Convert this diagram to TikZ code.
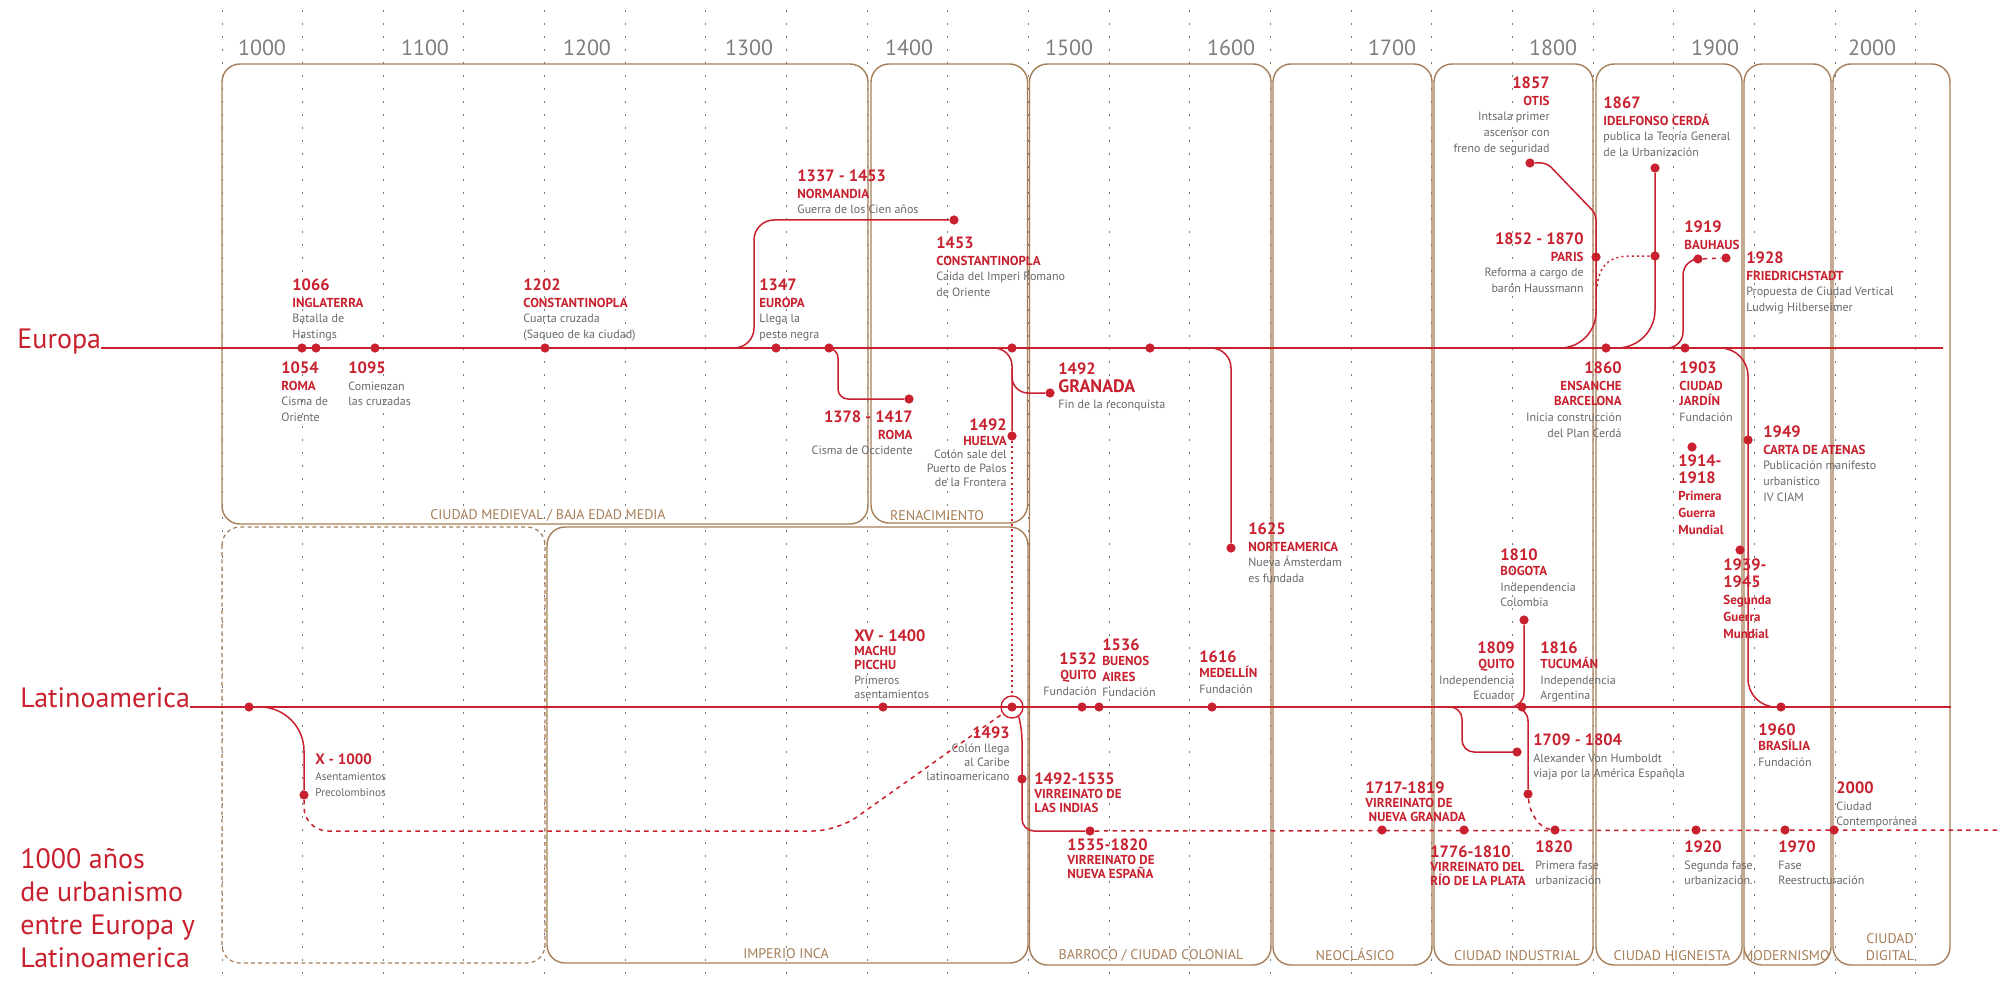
\documentclass[tikz,border=0pt]{standalone}
\usepackage{fontspec}
\setmainfont{PT Sans}
\definecolor{myred}{RGB}{200,32,46}
\definecolor{boxbrown}{RGB}{166,126,88}
\definecolor{txtgray}{RGB}{105,105,108}
\definecolor{gridgray}{RGB}{120,120,120}
\definecolor{yeargray}{RGB}{125,125,125}
\newcommand\Y[1]{{\color{myred}\fontsize{8.2}{8.2}\selectfont\bfseries #1}}
\newcommand\N[1]{{\color{myred}\fontsize{6.5}{6.5}\selectfont\bfseries #1}}
\begin{document}
\begin{tikzpicture}[x=0.5pt,y=-0.5pt,
  gridln/.style={gridgray, line width=0.5pt, dash pattern=on 0.9pt off 5.6pt},
  pbox/.style={boxbrown, line width=0.7pt, rounded corners=9pt},
  pboxd/.style={pbox, dash pattern=on 2pt off 1.6pt, line width=0.6pt},
  boxlbl/.style={text=boxbrown, font=\fontsize{7}{8}\selectfont, inner sep=0pt, anchor=base, align=center},
  yearlbl/.style={text=yeargray, font=\fontsize{11}{11}\selectfont, inner sep=0pt},
  rl/.style={myred, line width=0.75pt},
  rdash/.style={dash pattern=on 2.2pt off 2.2pt},
  rdot/.style={dash pattern=on 1pt off 1.6pt},
  dot/.style={circle, fill=myred, inner sep=0pt, minimum size=4.6pt},
  evt/.style={inner sep=0pt, font=\fontsize{6}{7.8}\selectfont, text=txtgray, align=left, anchor=north west},
  evr/.style={evt, align=right, anchor=north east},
  bigtxt/.style={text=myred, font=\fontsize{14}{16.5}\selectfont, inner sep=0pt}
]
\useasboundingbox (0,0) rectangle (2000,984);
\fill[white] (0,0) rectangle (2000,984);

% grid
\foreach \k in {0,...,21} \draw[gridln] ({222+80.65*\k},10) -- ({222+80.65*\k},984);

% century labels
\foreach \yx/\yt in {262/1000,425/1100,587/1200,749/1300,909/1400,1069/1500,1231/1600,1392/1700,1553/1800,1715/1900,1872/2000}
  \node[yearlbl] (yr\yt) at (\yx,48) {\yt};

% period boxes
\draw[pbox] (222,64) rectangle (868,524);
\draw[pbox] (871,64) rectangle (1027.5,523);
\draw[pbox] (1029.5,64) rectangle (1271,965);
\draw[pbox] (1273,64) rectangle (1432,965);
\draw[pbox] (1434,64) rectangle (1593,965);
\draw[pbox] (1596,64) rectangle (1742,965);
\draw[pbox] (1744,64) rectangle (1831,965);
\draw[pbox] (1833,64) rectangle (1950,965);
\draw[pboxd] (222,527) rectangle (545,963);
\draw[pbox] (547,527) rectangle (1028,963);

\node[boxlbl] (bMed) at (548,519) {CIUDAD MEDIEVAL / BAJA EDAD MEDIA};
\node[boxlbl] (bRen) at (937,520) {RENACIMIENTO};
\node[boxlbl] (bInc) at (786,958) {IMPERIO INCA};
\node[boxlbl] (bBar) at (1151,959) {BARROCO / CIUDAD COLONIAL};
\node[boxlbl] (bNeo) at (1355,960) {NEOCLÁSICO};
\node[boxlbl] (bInd) at (1517,960) {CIUDAD INDUSTRIAL};
\node[boxlbl] (bHig) at (1672,960) {CIUDAD HIGNEISTA};
\node[boxlbl] (bMod) at (1786,960) {MODERNISMO};
\node[boxlbl] (bDig1) at (1890,943) {CIUDAD};
\node[boxlbl] (bDig2) at (1890,960) {DIGITAL};

% axis labels
\node[bigtxt, anchor=base west] (lEur) at (17,348) {Europa};
\node[bigtxt, anchor=base west] (lLat) at (20,707) {Latinoamerica};
\node[bigtxt, anchor=north west, align=left] (title) at (20,848) {1000 años\\de urbanismo\\entre Europa y\\Latinoamerica};

\coordinate (eEnd) at (1943,348);
\coordinate (lEnd) at (1951,707);
\draw[rl] (lEur.base east) -- (eEnd);
\draw[rl] (lLat.base east) -- (lEnd);

% ---------- Europa dots
\node[dot] (d1054) at (302,348) {};
\node[dot] (d1066) at (316,348) {};
\node[dot] (d1095) at (375,348) {};
\node[dot] (d1202) at (545,348) {};
\node[dot] (d1347) at (776,348) {};
\node[dot] (d1378) at (829,348) {};
\node[dot] (d1492) at (1012,348) {};
\node[dot] (d1150) at (1150,348) {};
\node[dot] (d1860) at (1606,348) {};
\node[dot] (d1903) at (1685,348) {};
\node[dot] (d1337e) at (954,220) {};
\node[dot] (d1378e) at (909,399) {};
\node[dot] (dGran) at (1050,393) {};
\node[dot] (dHuel) at (1012,436) {};
\node[dot] (d1625) at (1231,548) {};
\node[dot] (dOtis) at (1530,163) {};
\node[dot] (dParis) at (1596,257) {};
\node[dot] (d1867t) at (1655,168) {};
\node[dot] (d1867m) at (1655,256) {};
\node[dot] (d1919) at (1698,259) {};
\node[dot] (d1928) at (1726,258) {};
\node[dot] (d1949) at (1748,440) {};
\node[dot] (d1914) at (1692,447) {};
\node[dot] (d1939) at (1740,550) {};

% Europa connectors
\coordinate (s1337) at (718,348);
\draw[rl, rounded corners=10pt] (s1337) -| (754,220) -- (d1337e);
\draw[rl, rounded corners=5pt] (d1378) -| (838,399) -- (d1378e);
\coordinate (s1492) at (975,348);
\draw[rl, rounded corners=9pt] (s1492) -| (dHuel);
\coordinate (s1492g) at (1012,368);
\draw[rl, rounded corners=8pt] (s1492g) |- (dGran);
\coordinate (s1625) at (1195,348);
\draw[rl, rounded corners=10pt] (s1625) -| (d1625);
\coordinate (eOtis) at (1540,348);
\draw[rl, rounded corners=3pt] (dOtis) -- (1547,163) -- (1596,214) [rounded corners=18pt] -- (1596,348) -- (eOtis);
\coordinate (sParis) at (1597,286);
\draw[rl, rdot] (sParis) .. controls (1600,262) and (1612,256) .. (1632,256) -- (d1867m);
\coordinate (e1867) at (1600,348);
\draw[rl, rounded corners=19pt] (d1867t) |- (e1867);
\coordinate (s1919) at (1655,348);
\draw[rl, rounded corners=8pt] (s1919) -| (1683,259) -- (d1919);
\draw[rl, rdash] (d1919) -- (d1928);
\coordinate (s1949) at (1700,348);

% ---------- Latin dots
\node[dot] (dL249) at (249,707) {};
\node[dot] (dX) at (304,795) {};
\node[dot] (dXV) at (883,707) {};
\node[circle, draw=myred, line width=0.7pt, minimum size=11pt, inner sep=0pt] (circ) at (1012,707) {};
\node[dot] (d1493) at (1012,707) {};
\node[dot] (d1532) at (1082,707) {};
\node[dot] (d1536) at (1099,707) {};
\node[dot] (d1616) at (1212,707) {};
\node[dot] (d1492v) at (1022,779) {};
\node[dot] (d1535) at (1090,831) {};
\node[dot] (dBog) at (1524,620) {};
\node[dot] (d1816) at (1522,707) {};
\node[dot] (dHum) at (1517,752) {};
\node[dot] (d1804) at (1528,794) {};
\node[dot] (d1820) at (1555,830) {};
\node[dot] (d1717) at (1382,830) {};
\node[dot] (d1776) at (1464,830) {};
\node[dot] (d1920) at (1696,830) {};
\node[dot] (d1970) at (1785,830) {};
\node[dot] (d2000) at (1834,830) {};
\node[dot] (d1960) at (1781,707) {};

% Latin connectors
\draw[rl, rounded corners=14pt] (s1949) -| (1748,707) -- (d1960);
\draw[rl, rounded corners=22pt] (dL249) -| (dX);
\draw[rl, rdash, rounded corners=12pt] (dX) |- (837,831) -- (circ);
\draw[rl, rdot] (dHuel) -- (circ);
\draw[rl, rounded corners=6pt] (circ.-55) -- (1022,728) -- (1022,831) -- (d1535);
\coordinate (lowEnd) at (1998,830);
\draw[rl, rdash] (d1535) -- (lowEnd);
\coordinate (jBog) at (1496,707);
\draw[rl, rounded corners=7pt] (dBog) -- (1524,707) -- (jBog);
\draw[rl, rounded corners=7pt] (jBog) -- (1528,707) -- (d1804);
\draw[rl, rdash] (d1804) .. controls (1530,815) and (1540,828) .. (d1820);
\coordinate (sHum) at (1443,707);
\draw[rl, rounded corners=6pt] (sHum) -| (1462,752) -- (dHum);

% ---------- Europa labels
\node[evt] (t1066) at (292,278) {\Y{1066}\\[0.8pt]\N{INGLATERRA}\\Batalla de\\Hastings};
\node[evt] (t1202) at (523,278) {\Y{1202}\\[0.8pt]\N{CONSTANTINOPLA}\\Cuarta cruzada\\(Saqueo de ka ciudad)};
\node[evt] (t1347) at (759,278) {\Y{1347}\\[0.8pt]\N{EUROPA}\\Llega la\\peste negra};
\node[evt] (t1337) at (797,169) {\Y{1337 - 1453}\\[0.8pt]\N{NORMANDIA}\\Guerra de los Cien años};
\node[evt] (t1453) at (936,236) {\Y{1453}\\[0.8pt]\N{CONSTANTINOPLA}\\Caida del Imperi Romano\\de Oriente};
\node[evr] (t1857) at (1550,76) {\Y{1857}\\[0.8pt]\N{OTIS}\\Intsala primer\\ascensor con\\freno de seguridad};
\node[evt] (t1867) at (1603,96) {\Y{1867}\\[0.8pt]\N{IDELFONSO CERDÁ}\\publica la Teoría General\\de la Urbanización};
\node[evr] (t1852) at (1584,232) {\Y{1852 - 1870}\\[0.8pt]\N{PARIS}\\Reforma a cargo de\\barón Haussmann};
\node[evt] (t1919) at (1684,220) {\Y{1919}\\[0.8pt]\N{BAUHAUS}};
\node[evt] (t1928) at (1746,251) {\Y{1928}\\[0.8pt]\N{FRIEDRICHSTADT}\\Propuesta de Ciudad Vertical\\Ludwig Hilberseimer};
\node[evt] (t1054) at (281,361) {\Y{1054}\\[0.8pt]\N{ROMA}\\Cisma de\\Oriente};
\node[evt] (t1095) at (348,361) {\Y{1095}\\[0.8pt]Comienzan\\las cruzadas};
\node[evr] (t1378) at (913,410) {\Y{1378 - 1417}\\[0.8pt]\N{ROMA}\\Cisma de Occidente};
\node[evr, font=\fontsize{6}{6.8}\selectfont] (t1492h) at (1007,418) {\Y{1492}\\[0.8pt]\N{HUELVA}\\Colón sale del\\Puerto de Palos\\de la Frontera};
\node[evt] (t1492g) at (1058,362) {\Y{1492}\\[1.5pt]{\color{myred}\fontsize{9}{9}\selectfont\bfseries GRANADA}\\Fin de la reconquista};
\node[evt] (t1625) at (1248,522) {\Y{1625}\\[0.8pt]\N{NORTEAMERICA}\\Nueva Ámsterdam\\es fundada};
\node[evr] (t1860) at (1622,361) {\Y{1860}\\[0.8pt]\N{ENSANCHE}\\\N{BARCELONA}\\Inicia construcción\\del Plan Cerdá};
\node[evt] (t1903) at (1679,361) {\Y{1903}\\[0.8pt]\N{CIUDAD}\\\N{JARDÍN}\\Fundación};
\node[evt, font=\fontsize{6}{8.5}\selectfont] (t1914) at (1678,454) {\Y{1914-}\\\Y{1918}\\\N{Primera}\\\N{Guerra}\\\N{Mundial}};
\node[evt] (t1949) at (1763,425) {\Y{1949}\\[0.8pt]\N{CARTA DE ATENAS}\\Publicación manifesto\\urbanístico\\IV CIAM};
\node[evt, font=\fontsize{6}{8.5}\selectfont] (t1939) at (1723,558) {\Y{1939-}\\\Y{1945}\\\N{Segunda}\\\N{Guerra}\\\N{Mundial}};

% ---------- Latin labels
\node[evt] (tX) at (315,753) {{\color{myred}\fontsize{7.5}{7.5}\selectfont\bfseries X - 1000}\\[0.5pt]{\fontsize{5.6}{6}\selectfont Asentamientos}\\{\fontsize{5.6}{6}\selectfont Precolombinos}};
\node[evt, font=\fontsize{6}{7.2}\selectfont] (tXV) at (854,629) {\Y{XV - 1400}\\\N{MACHU}\\\N{PICCHU}\\Primeros\\asentamientos};
\node[evr, font=\fontsize{6}{7}\selectfont] (t1493) at (1010,726) {\Y{1493}\\Colón llega\\al Caribe\\latinoamericano};
\node[evr] (t1532) at (1097,652) {\Y{1532}\\\N{QUITO}\\Fundación};
\node[evt] (t1536) at (1102,638) {\Y{1536}\\\N{BUENOS}\\\N{AIRES}\\Fundación};
\node[evt] (t1616) at (1199,650) {\Y{1616}\\\N{MEDELLÍN}\\Fundación};
\node[evt, font=\fontsize{6}{7}\selectfont] (t1492v) at (1034,772) {\Y{1492-1535}\\\N{VIRREINATO DE}\\\N{LAS INDIAS}};
\node[evt, font=\fontsize{6}{7}\selectfont] (t1535) at (1067,838) {\Y{1535-1820}\\\N{VIRREINATO DE}\\\N{NUEVA ESPAÑA}};
\node[evt] (t1810) at (1500,548) {\Y{1810}\\\N{BOGOTA}\\Independencia\\Colombia};
\node[evr] (t1809) at (1515,641) {\Y{1809}\\\N{QUITO}\\Independencia\\Ecuador};
\node[evt] (t1816) at (1540,641) {\Y{1816}\\\N{TUCUMÁN}\\Independencia\\Argentina};
\node[evt] (t1709) at (1533,733) {\Y{1709 - 1804}\\[0.8pt]Alexander Von Humboldt\\viaja por la América Española};
\node[evt, font=\fontsize{6}{7}\selectfont] (t1717) at (1365,781) {\Y{1717-1819}\\\N{VIRREINATO DE}\\\N{\ NUEVA GRANADA}};
\node[evt, font=\fontsize{6}{7}\selectfont] (t1776) at (1430,845) {\Y{1776-1810}\\\N{VIRREINATO DEL}\\\N{RÍO DE LA PLATA}};
\node[evt] (t1820) at (1535,840) {\Y{1820}\\[0.8pt]Primera fase\\urbanización};
\node[evt] (t1920) at (1684,840) {\Y{1920}\\[0.8pt]Segunda fase\\urbanización.};
\node[evt] (t1970) at (1778,840) {\Y{1970}\\[0.8pt]Fase\\Reestructuración};
\node[evt] (t1960) at (1758,723) {\Y{1960}\\\N{BRASÍLIA}\\Fundación};
\node[evt] (t2000) at (1836,781) {\Y{2000}\\[0.8pt]Ciudad\\Contemporánea};
\end{tikzpicture}
\end{document}
